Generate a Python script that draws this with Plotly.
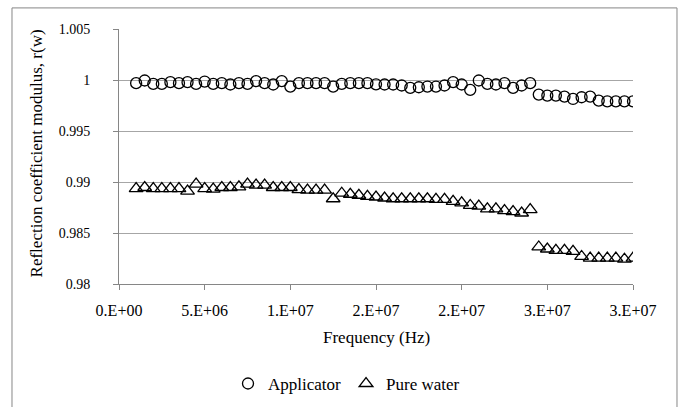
import plotly.graph_objects as go

# Frequency sweep (MHz)
freq_mhz = [1.0, 1.5, 2.0, 2.5, 3.0, 3.5, 4.0, 4.5, 5.0, 5.5,
            6.0, 6.5, 7.0, 7.5, 8.0, 8.5, 9.0, 9.5, 10.0, 10.5,
            11.0, 11.5, 12.0, 12.5, 13.0, 13.5, 14.0, 14.5, 15.0, 15.5,
            16.0, 16.5, 17.0, 17.5, 18.0, 18.5, 19.0, 19.5, 20.0, 20.5,
            21.0, 21.5, 22.0, 22.5, 23.0, 23.5, 24.0, 24.5, 25.0, 25.5,
            26.0, 26.5, 27.0, 27.5, 28.0, 28.5, 29.0, 29.5, 30.0]
freq_hz = [f * 1e6 for f in freq_mhz]

applicator = [0.99969, 0.99995, 0.99962, 0.99962, 0.99979, 0.99969, 0.99979, 0.99962, 0.99985, 0.99962,
              0.99969, 0.99956, 0.99969, 0.99962, 0.99989, 0.99969, 0.99956, 0.99989, 0.99936, 0.99969,
              0.99969, 0.99969, 0.99969, 0.99936, 0.99962, 0.99969, 0.99969, 0.99969, 0.99958, 0.99956,
              0.99956, 0.99946, 0.99923, 0.99929, 0.99936, 0.99936, 0.99946, 0.99979, 0.99956, 0.99903,
              0.99995, 0.99962, 0.99956, 0.99969, 0.99923, 0.99946, 0.99969, 0.99857, 0.99847, 0.99847,
              0.99837, 0.99814, 0.99831, 0.99837, 0.99798, 0.99791, 0.99791, 0.99791, 0.99791]

pure_water = [0.98936, 0.98946, 0.98936, 0.98936, 0.98936, 0.98936, 0.98910, 0.98980, 0.98936, 0.98930,
              0.98946, 0.98946, 0.98953, 0.98980, 0.98970, 0.98970, 0.98946, 0.98946, 0.98946, 0.98926,
              0.98920, 0.98920, 0.98920, 0.98836, 0.98890, 0.98880, 0.98870, 0.98860, 0.98853, 0.98843,
              0.98836, 0.98836, 0.98836, 0.98836, 0.98836, 0.98830, 0.98830, 0.98810, 0.98796, 0.98770,
              0.98763, 0.98736, 0.98736, 0.98720, 0.98710, 0.98696, 0.98730, 0.98363, 0.98343, 0.98330,
              0.98330, 0.98320, 0.98270, 0.98253, 0.98253, 0.98253, 0.98253, 0.98243, 0.98253]

x_tickvals = [0, 5e6, 1e7, 1.5e7, 2e7, 2.5e7, 3e7]
x_ticktext = ["0.E+00", "5.E+06", "1.E+07", "2.E+07", "2.E+07", "3.E+07", "3.E+07"]
y_tickvals = [0.98, 0.985, 0.99, 0.995, 1.0, 1.005]
y_ticktext = ["0.98", "0.985", "0.99", "0.995", "1", "1.005"]

FONT = "'Liberation Serif', 'DejaVu Serif', serif"
GRID = "#a6a6a6"
AXIS = "#868686"

fig = go.Figure()
fig.add_trace(go.Scatter(
    x=freq_hz, y=applicator, mode="markers", name="Applicator",
    marker=dict(symbol="circle-open", size=11, color="black", line=dict(width=1.3)),
))
fig.add_trace(go.Scatter(
    x=freq_hz, y=pure_water, mode="markers", name="Pure water",
    marker=dict(symbol="triangle-up-open", size=12, color="black", line=dict(width=1.3)),
))

fig.update_layout(
    width=688, height=407,
    margin=dict(l=119, r=55, t=29, b=123, autoexpand=False),
    paper_bgcolor="white", plot_bgcolor="white",
    font=dict(family=FONT, color="black"),
    showlegend=True,
    legend=dict(orientation="h", x=0.4426, xanchor="center", y=-0.392, yanchor="middle",
                font=dict(family=FONT, size=17, color="black"),
                itemwidth=30, tracegroupgap=0, bgcolor="rgba(0,0,0,0)"),
    xaxis=dict(range=[0, 3e7], tickvals=x_tickvals, ticktext=x_ticktext,
               showgrid=False, zeroline=False, showline=True, linecolor=AXIS, linewidth=1,
               ticks="outside", ticklen=5, tickcolor=AXIS, ticklabelstandoff=7,
               tickfont=dict(family=FONT, size=16, color="black")),
    yaxis=dict(range=[0.98, 1.005], tickvals=y_tickvals, ticktext=y_ticktext,
               showgrid=True, gridcolor=GRID, gridwidth=1, zeroline=False,
               showline=True, linecolor=AXIS, linewidth=1,
               ticks="outside", ticklen=5, tickcolor=AXIS, ticklabelstandoff=20,
               tickfont=dict(family=FONT, size=14, color="black")),
    annotations=[
        dict(text="Frequency (Hz)", xref="paper", yref="paper", x=0.5, y=-0.208,
             xanchor="center", yanchor="middle", showarrow=False,
             font=dict(family=FONT, size=17, color="black")),
        dict(text="Reflection coefficient modulus, r(w)", xref="paper", yref="paper",
             x=-0.1615, y=0.512, xanchor="center", yanchor="middle", textangle=-90,
             showarrow=False, font=dict(family=FONT, size=17, color="black")),
    ],
    shapes=[
        dict(type="rect", xref="paper", yref="paper", x0=-0.2082, x1=1.0856,
             y0=-0.6, y1=1.0827, line=dict(color=AXIS, width=1), fillcolor="rgba(0,0,0,0)",
             layer="below"),
    ],
)

fig.write_html("out.html")
